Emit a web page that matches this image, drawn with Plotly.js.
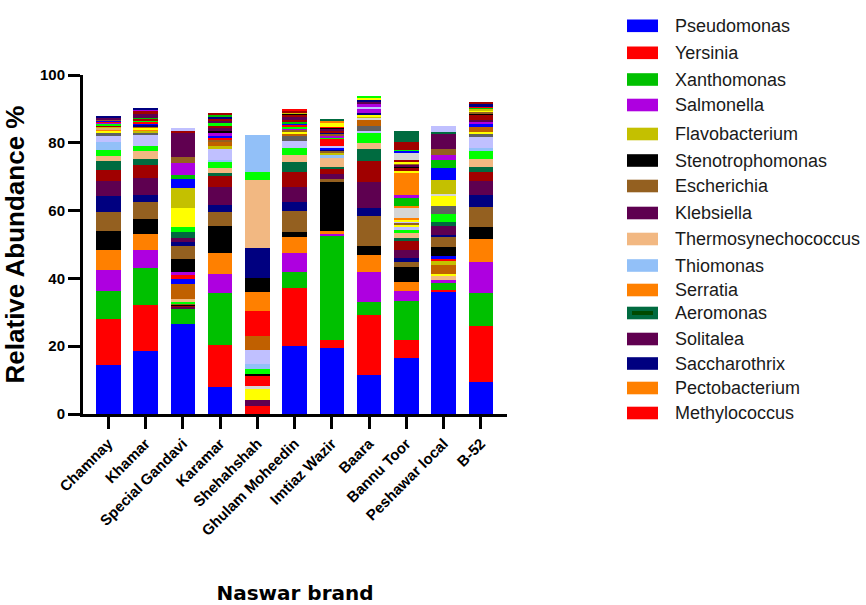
<!DOCTYPE html>
<html>
<head>
<meta charset="utf-8">
<script src="https://cdn.plot.ly/plotly-3.0.1.min.js"></script>
<style>html,body{margin:0;padding:0;background:#fff;}#chart{width:866px;height:605px;}</style>
</head>
<body>
<div id="chart"></div>
<script>
// ---------- DATA ----------
const categories = ['Chamnay','Khamar','Special Gandavi','Karamar','Shehahshah','Ghulam Moheedin','Imtiaz Wazir','Baara','Bannu Toor','Peshawar local','B-52'];

const legendGenera = ['Pseudomonas','Yersinia','Xanthomonas','Salmonella','Flavobacterium','Stenotrophomonas','Escherichia','Klebsiella','Thermosynechococcus','Thiomonas','Serratia','Aeromonas','Solitalea','Saccharothrix','Pectobacterium','Methylococcus'];
const legendColors = ['#0000FF','#FF0000','#00C000','#AE00E0','#C4C000','#000000','#946020','#5E0050','#F2B882','#92C0F8','#FF8000','#006B40','#600050','#000080','#FF8000','#FF0000'];

// other (unlisted) genera, by colour
const otherNames = ['darkred','lime','lavender','gray','yellow','darkorange','lightgray','tan','blue','red','green','purple','black','brown','navy','olive','orange'];
const otherColors = ['#A00000','#00FF00','#C0C0FF','#606060','#FFFF00','#C06000','#D6D6D6','#E0B070','#0000FF','#FF0000','#00C000','#AE00E0','#000000','#946020','#000080','#C4C000','#FF8000'];

// per-brand segments, bottom to top (relative abundance %)
const chamnayGenus = ['Pseudomonas','Yersinia','Xanthomonas','Salmonella','Serratia','Stenotrophomonas','Escherichia','Saccharothrix','Klebsiella','darkred','Aeromonas','Thermosynechococcus','lime','Thiomonas','lavender','gray','yellow','orange','tan','olive','darkred','lime','purple','red','blue','brown','Klebsiella','navy'];
const chamnayAbund = [14.5,13.6,8.3,6.2,5.9,5.6,5.5,4.6,4.5,3.4,2.5,1.6,1.8,2.3,1.6,1.1,0.6,0.4,0.5,0.3,0.4,0.4,0.4,0.3,0.3,0.4,0.5,0.4];

const khamarGenus = ['Pseudomonas','Yersinia','Xanthomonas','Salmonella','Serratia','Stenotrophomonas','Escherichia','Saccharothrix','Klebsiella','darkred','Aeromonas','Thermosynechococcus','lime','lavender','gray','olive','orange','yellow','darkorange','navy','blue','red','lime','darkred','green','Klebsiella','darkred','purple','navy'];
const khamarAbund = [18.7,13.5,10.8,5.5,4.7,4.4,4.9,2.0,5.2,3.9,1.7,2.4,1.5,3.2,0.5,0.5,0.6,0.4,0.5,0.4,0.5,0.4,0.4,0.5,0.3,1.2,0.9,0.4,0.4];

const gandaviGenus = ['Pseudomonas','Xanthomonas','Klebsiella','darkred','black','brown','lime','Thermosynechococcus','darkorange','blue','red','purple','Stenotrophomonas','Escherichia','Saccharothrix','Klebsiella','Aeromonas','lime','yellow','Flavobacterium','blue','green','Salmonella','brown','Solitalea','darkred','lavender'];
const gandaviAbund = [26.6,4.6,0.4,0.4,0.3,0.3,0.4,1.0,4.4,1.5,1.2,0.7,4.0,3.9,1.0,1.3,1.6,1.7,5.4,5.9,2.6,1.4,3.4,1.8,7.0,0.6,1.0];

const karamarGenus = ['Pseudomonas','Yersinia','Xanthomonas','Salmonella','Serratia','Stenotrophomonas','Escherichia','Saccharothrix','Klebsiella','darkred','Aeromonas','Thermosynechococcus','lime','Thiomonas','lavender','olive','darkorange','brown','red','blue','purple','black','Klebsiella','darkred','lime','Klebsiella','darkred','navy','green','darkred'];
const karamarAbund = [7.9,12.5,15.2,5.8,6.0,8.0,4.1,2.3,5.1,3.2,1.0,1.4,1.8,0.7,3.2,1.0,1.0,0.6,0.8,0.5,1.0,0.5,0.8,0.8,0.5,0.6,1.0,0.4,0.5,0.4];

const shehahshahGenus = ['Methylococcus','Solitalea','yellow','lightgray','red','black','lime','Thiomonas','lavender','darkorange','Yersinia','Pectobacterium','Stenotrophomonas','Saccharothrix','Thermosynechococcus','lime','Thiomonas'];
const shehahshahAbund = [2.3,1.9,3.2,1.0,3.0,0.5,1.4,1.5,4.1,4.0,7.6,5.4,4.2,8.8,20.0,2.6,10.9];

const ghulamGenus = ['Pseudomonas','Yersinia','Xanthomonas','Salmonella','Serratia','Stenotrophomonas','Escherichia','Saccharothrix','Klebsiella','darkred','Aeromonas','Thermosynechococcus','lime','lavender','gray','darkorange','yellow','brown','purple','lime','red','blue','green','darkred','Klebsiella','darkred','black','olive','darkred','red'];
const ghulamAbund = [20.0,17.1,4.9,5.6,4.6,1.6,6.2,2.5,4.4,4.6,2.8,2.2,2.0,2.0,1.4,0.8,0.5,0.5,0.6,0.4,0.6,0.4,0.4,0.9,0.5,0.7,0.4,0.4,0.4,0.3];

const imtiazGenus = ['Pseudomonas','Yersinia','Xanthomonas','Salmonella','Serratia','Stenotrophomonas','Escherichia','Klebsiella','darkred','Aeromonas','Thermosynechococcus','Thiomonas','olive','brown','navy','blue','lavender','red','lime','purple','brown','navy','darkred','Klebsiella','black','red','yellow','orange','Aeromonas'];
const imtiazAbund = [19.4,2.5,30.5,0.8,0.9,14.3,1.0,1.4,1.5,0.5,2.8,0.9,0.6,0.5,0.5,0.5,0.6,1.8,0.7,0.5,0.4,0.4,0.6,0.5,0.4,0.3,1.2,0.4,0.7];

const baaraGenus = ['Pseudomonas','Yersinia','Xanthomonas','Salmonella','Serratia','Stenotrophomonas','Escherichia','Saccharothrix','Klebsiella','darkred','Aeromonas','Thermosynechococcus','lime','lavender','gray','darkorange','lightgray','olive','yellow','navy','purple','lavender','purple','Klebsiella','navy','yellow','lime'];
const baaraAbund = [11.4,17.7,3.9,9.0,4.8,2.9,8.6,2.4,7.7,6.2,3.6,1.7,3.2,0.5,1.5,1.7,0.5,0.6,0.5,0.5,1.2,0.4,0.8,0.8,0.6,0.6,0.5];

const bannuGenus = ['Pseudomonas','Yersinia','Xanthomonas','Salmonella','Serratia','Stenotrophomonas','Escherichia','Saccharothrix','Klebsiella','darkred','Aeromonas','Thermosynechococcus','lime','lavender','yellow','brown','lavender','yellow','orange','lightgray','orange','green','purple','Pectobacterium','yellow','darkred','black','Klebsiella','brown','yellow','darkred','lightgray','blue','lime','darkred','Aeromonas'];
const bannuAbund = [16.6,5.3,11.3,3.2,2.5,4.4,1.5,1.3,2.3,2.6,1.0,1.3,1.1,1.0,0.5,0.5,0.4,0.5,0.5,2.9,0.8,2.5,0.5,6.8,0.5,0.8,0.4,0.6,0.4,0.4,0.4,2.4,0.4,0.4,2.2,3.4];

const peshawarGenus = ['Pseudomonas','Yersinia','Xanthomonas','Salmonella','Thermosynechococcus','yellow','darkorange','Flavobacterium','red','blue','Stenotrophomonas','Escherichia','Saccharothrix','Klebsiella','Aeromonas','lime','gray','yellow','lightgray','olive','blue','green','purple','brown','Solitalea','Aeromonas','lavender'];
const peshawarAbund = [36.1,0.5,2.0,0.8,1.5,0.5,2.6,1.0,0.8,0.7,2.7,3.0,0.7,2.7,1.0,2.5,2.4,3.0,0.5,4.1,3.4,2.5,1.5,1.7,4.5,0.6,1.8];

const b52Genus = ['Pseudomonas','Yersinia','Xanthomonas','Salmonella','Serratia','Stenotrophomonas','Escherichia','Saccharothrix','Klebsiella','darkred','Aeromonas','Thermosynechococcus','lime','Thiomonas','lavender','gray','yellow','darkorange','blue','purple','Klebsiella','darkred','black','brown','yellow','olive','green','red','navy','darkred'];
const b52Abund = [9.4,16.5,9.7,9.2,6.9,3.4,5.9,3.5,4.2,2.8,1.3,2.5,2.2,0.9,3.3,1.0,0.6,1.3,1.2,0.5,0.5,1.5,0.4,0.4,0.5,0.4,0.4,0.4,0.5,0.7];

// ---------- BUILD ----------
const palette = {};
legendGenera.forEach((g, i) => palette[g] = legendColors[i]);
otherNames.forEach((g, i) => palette[g] = otherColors[i]);

const bars = [
  [chamnayGenus, chamnayAbund], [khamarGenus, khamarAbund], [gandaviGenus, gandaviAbund],
  [karamarGenus, karamarAbund], [shehahshahGenus, shehahshahAbund], [ghulamGenus, ghulamAbund],
  [imtiazGenus, imtiazAbund], [baaraGenus, baaraAbund], [bannuGenus, bannuAbund],
  [peshawarGenus, peshawarAbund], [b52Genus, b52Abund]
];
const maxSeg = Math.max(...bars.map(b => b[1].length));

const traces = [];
for (let s = 0; s < maxSeg; s++) {
  traces.push({
    type: 'bar',
    x: categories,
    y: bars.map(b => (s < b[1].length ? b[1][s] : 0)),
    text: bars.map(b => (s < b[0].length ? b[0][s] : '')),
    marker: {
      color: bars.map(b => (s < b[0].length ? palette[b[0][s]] : 'rgba(0,0,0,0)')),
      line: {width: 0}
    },
    textposition: 'none',
    hovertemplate: '%{x}<br>%{text}: %{y}%<extra></extra>',
    showlegend: false,
    width: 0.66
  });
}

// plot frame (px)
const W = 866, H = 605, L = 83, R = 359, T = 75, B = 191;
const PW = W - L - R, PH = H - T - B;
const px = v => (v - L) / PW;
const py = v => (H - B - v) / PH;

// legend (drawn with shapes + annotations)
const legendRowY = [25.8, 52.8, 79.5, 105, 134, 160.5, 186, 213, 239, 265.5, 290, 313, 339, 363.5, 388, 413];
const shapes = [];
const annotations = [];
legendGenera.forEach((g, i) => {
  const cy = legendRowY[i];
  shapes.push({
    type: 'rect', xref: 'paper', yref: 'paper',
    x0: px(627), x1: px(658), y0: py(cy + 6.3), y1: py(cy - 6.3),
    fillcolor: legendColors[i], line: {width: 0}
  });
  if (g === 'Aeromonas') {
    shapes.push({
      type: 'rect', xref: 'paper', yref: 'paper',
      x0: px(632), x1: px(653), y0: py(cy + 2), y1: py(cy - 2),
      fillcolor: '#004A00', line: {width: 0}
    });
  }
  annotations.push({
    xref: 'paper', yref: 'paper', x: px(673), y: py(cy),
    xanchor: 'left', yanchor: 'middle', showarrow: false, text: g,
    font: {family: 'Liberation Sans, Arial, sans-serif', size: 18, color: '#1a1a1a'}
  });
});

const layout = {
  width: W, height: H,
  margin: {l: L, r: R, t: T, b: B, pad: 0},
  paper_bgcolor: '#ffffff', plot_bgcolor: '#ffffff',
  barmode: 'stack', bargap: 0.34,
  showlegend: false,
  font: {family: 'Liberation Sans, Arial, sans-serif', color: '#000'},
  xaxis: {
    type: 'category',
    range: [-0.68, 10.7],
    showline: true, linewidth: 3, linecolor: '#000',
    ticks: 'outside', ticklen: 12, tickwidth: 3, tickcolor: '#000',
    tickangle: -45,
    tickfont: {family: 'Liberation Sans, Arial, sans-serif', size: 15, color: '#000', weight: 'bold'},
    showgrid: false, zeroline: false, fixedrange: true,
    title: {text: 'Naswar brand', font: {family: 'DejaVu Sans, sans-serif', size: 20, color: '#000', weight: 'bold'}, standoff: 55}
  },
  yaxis: {
    range: [0, 100],
    tickvals: [0, 20, 40, 60, 80, 100],
    showline: true, linewidth: 3, linecolor: '#000',
    ticks: 'outside', ticklen: 12, tickwidth: 3, tickcolor: '#000',
    tickfont: {family: 'Liberation Sans, Arial, sans-serif', size: 15, color: '#000', weight: 'bold'},
    showgrid: false, zeroline: false, fixedrange: true,
    title: {text: 'Relative Abundance %', font: {family: 'Liberation Sans, Arial, sans-serif', size: 26, color: '#000', weight: 'bold'}, standoff: 12}
  },
  shapes: shapes,
  annotations: annotations
};

Plotly.newPlot('chart', traces, layout, {displayModeBar: false, staticPlot: false});
</script>
</body>
</html>
